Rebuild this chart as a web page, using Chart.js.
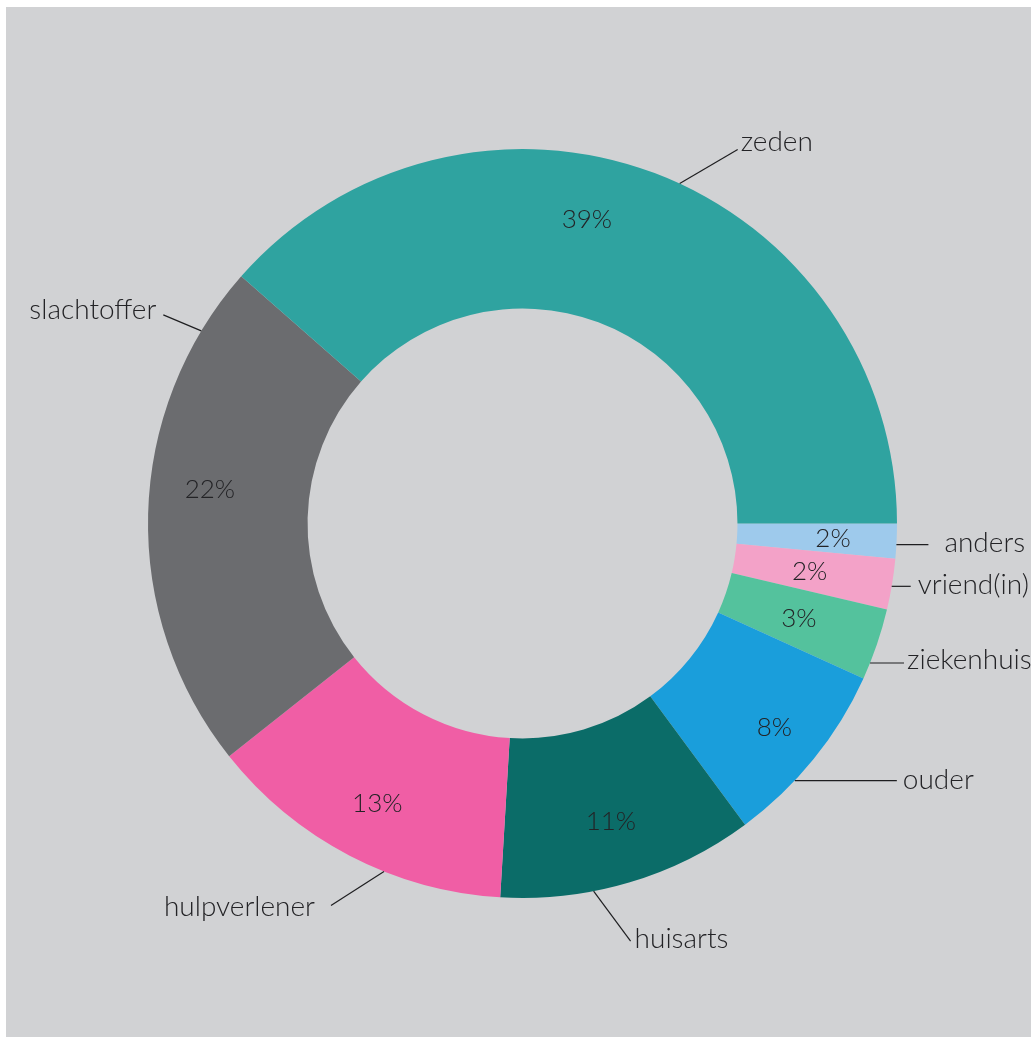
<!DOCTYPE html>
<html>
<head>
<meta charset="utf-8">
<script src="https://cdn.jsdelivr.net/npm/chart.js@4.4.1/dist/chart.umd.min.js"></script>
<style>
  html, body { margin: 0; padding: 0; background: #ffffff; }
  #wrap {
    position: absolute;
    left: 6px;
    top: 7px;
    width: 1025px;
    height: 1030px;
    background: #d1d2d4;
  }
</style>
</head>
<body>
<div id="wrap"><canvas id="donut"></canvas></div>
<script>
"use strict";

// clockwise from 3 o'clock
const categories = ['anders', 'vriend(in)', 'ziekenhuis', 'ouder', 'huisarts', 'hulpverlener', 'slachtoffer', 'zeden'];
const values = [1.5, 2.2, 3.1, 8.1, 11.1, 13.4, 22.2, 38.6];
const percentLabels = ['2%', '2%', '3%', '8%', '11%', '13%', '22%', '39%'];
const sliceColors = ['#9ecaec', '#f3a2c8', '#54c29d', '#1a9edb', '#0b6c68', '#f05ea5', '#6b6c6f', '#2fa3a0'];

const TEXT_COLOR = '#232326';
const FONT = '"Lato", "Open Sans", sans-serif';

// where the percentage sits: fraction of outer radius, angle nudge in degrees
const pctPlacement = [
    { r: 0.83, nudge: 0 },
    { r: 0.777, nudge: 0 },
    { r: 0.78, nudge: 0 },
    { r: 0.865, nudge: 0 },
    { r: 0.83, nudge: 0 },
    { r: 0.84, nudge: 0 },
    { r: 0.84, nudge: 4.9 },
    { r: 0.83, nudge: -8.7 }
];

// leader line: start at fraction t of the slice on the outer edge, then go (dx, dy)
const leaders = [
    { t: 0.6, dx: 32, dy: 0, gap: 16, base: 7 },
    { t: 0.54, dx: 19, dy: 0, gap: 7, base: 8 },
    { t: 0.77, dx: 34, dy: 0, gap: 3, base: 6 },
    { t: 0.65, dx: 102, dy: 0, gap: 6, base: 8 },
    { t: 0.64, dx: 37, dy: 50, gap: 4, base: 7 },
    { t: 0.38, dx: -53, dy: 34, gap: 16, base: 11 },
    { t: 0.87, dx: -38, dy: -16, gap: 7, base: 4 },
    { t: 0.53, dx: 58, dy: -34, gap: 3, base: 1 }
];

const sliceLabels = {
    id: 'sliceLabels',
    afterDatasetsDraw(chart) {
        const ctx = chart.ctx;
        const meta = chart.getDatasetMeta(0);
        ctx.save();
        meta.data.forEach((arc, i) => {
            const p = arc.getProps(['x', 'y', 'startAngle', 'endAngle', 'outerRadius', 'innerRadius'], true);

            // percentage inside the ring
            const place = pctPlacement[i];
            const mid = (p.startAngle + p.endAngle) / 2 + place.nudge * Math.PI / 180;
            const pr = p.outerRadius * place.r;
            ctx.font = '300 26px ' + FONT;
            ctx.fillStyle = TEXT_COLOR;
            ctx.textAlign = 'center';
            ctx.textBaseline = 'alphabetic';
            ctx.fillText(percentLabels[i], p.x + Math.cos(mid) * pr, p.y + Math.sin(mid) * pr + 9);

            // leader line and category name
            const ld = leaders[i];
            const a = p.startAngle + (p.endAngle - p.startAngle) * ld.t;
            const x0 = p.x + Math.cos(a) * p.outerRadius;
            const y0 = p.y + Math.sin(a) * p.outerRadius;
            const x1 = x0 + ld.dx;
            const y1 = y0 + ld.dy;
            ctx.beginPath();
            ctx.moveTo(x0, y0);
            ctx.lineTo(x1, y1);
            ctx.lineWidth = 1.2;
            ctx.strokeStyle = '#1e1e20';
            ctx.stroke();

            const right = ld.dx >= 0;
            ctx.font = '300 28px ' + FONT;
            ctx.textAlign = right ? 'left' : 'right';
            ctx.fillText(categories[i], x1 + (right ? ld.gap : -ld.gap), y1 + ld.base);
        });
        ctx.restore();
    }
};

new Chart(document.getElementById('donut'), {
    type: 'doughnut',
    data: {
        labels: categories,
        datasets: [{
            data: values,
            backgroundColor: sliceColors,
            borderWidth: 0
        }]
    },
    options: {
        responsive: true,
        maintainAspectRatio: false,
        animation: false,
        rotation: 90,
        cutout: '57.4%',
        layout: {
            padding: { left: 142, right: 134, top: 142, bottom: 139 }
        },
        plugins: {
            legend: { display: false },
            tooltip: { enabled: false }
        }
    },
    plugins: [sliceLabels]
});
</script>
</body>
</html>
